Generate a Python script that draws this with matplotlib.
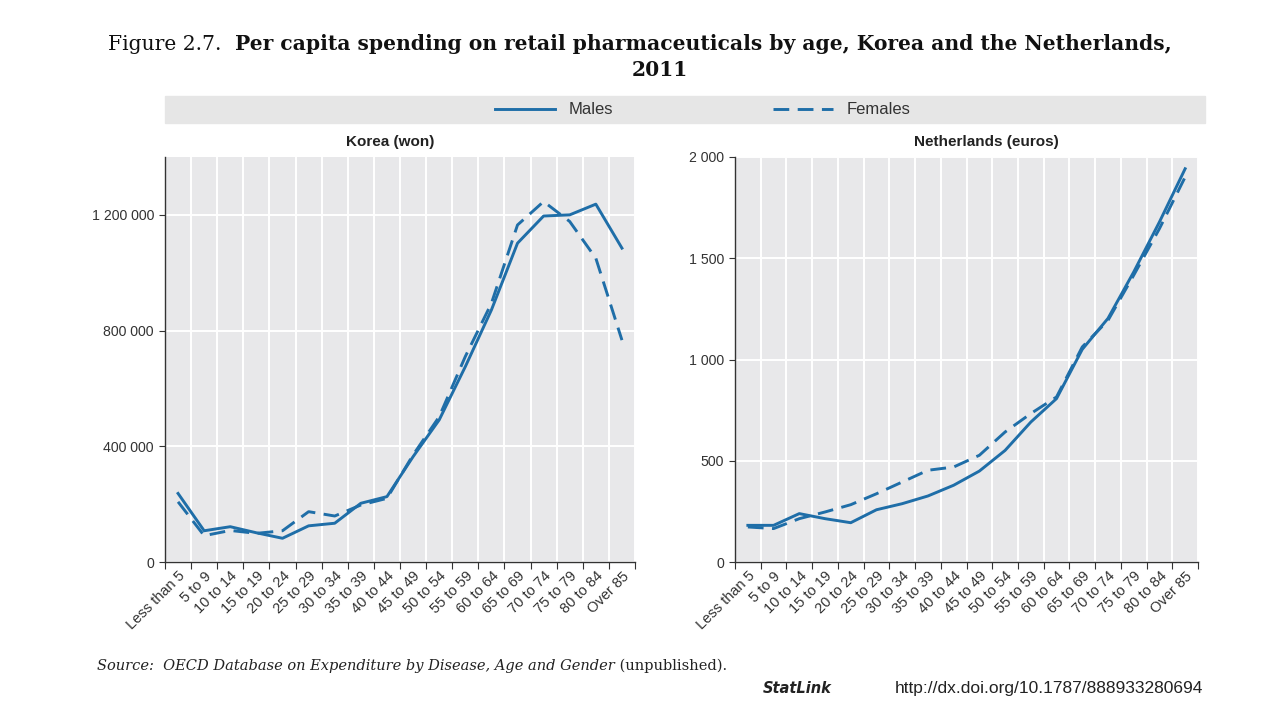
"""
Per capita spending on retail pharmaceuticals by age, Korea and the Netherlands, 2011.
OECD-style two-panel line chart.
"""

import matplotlib
matplotlib.use("Agg")
import matplotlib.pyplot as plt
from matplotlib.patches import Rectangle
from matplotlib.ticker import FuncFormatter, FixedLocator

# ── Data ──────────────────────────────────────────────────────────────────────

age_groups = [
    "Less than 5", "5 to 9", "10 to 14", "15 to 19", "20 to 24", "25 to 29",
    "30 to 34", "35 to 39", "40 to 44", "45 to 49", "50 to 54", "55 to 59",
    "60 to 64", "65 to 69", "70 to 74", "75 to 79", "80 to 84", "Over 85",
]

korea_males = [237000, 108000, 122000, 101000, 82000, 125000, 134000, 203000, 226000,
               364000, 491000, 675000, 871000, 1102000, 1196000, 1200000, 1237000, 1085000]
korea_females = [208000, 91000, 109000, 99000, 108000, 174000, 159000, 197000, 220000,
                 370000, 502000, 710000, 894000, 1165000, 1246000, 1177000, 1050000, 767000]

nl_males = [181, 181, 239, 214, 194, 258, 288, 326, 379,
            449, 551, 691, 807, 1050, 1203, 1432, 1679, 1942]
nl_females = [173, 165, 214, 247, 283, 337, 395, 453, 469,
              527, 642, 733, 815, 1062, 1193, 1416, 1646, 1901]

korea_yticks = [0, 400000, 800000, 1200000]
nl_yticks = [0, 500, 1000, 1500, 2000]

# ── Style ─────────────────────────────────────────────────────────────────────

LINE_COLOUR = "#1f6ea8"
PANEL_BG = "#e8e8ea"
BAND_BG = "#e6e6e6"
SANS = ["Liberation Sans", "DejaVu Sans"]
DASH = (0, (5.4, 2.9))

plt.rcParams["font.family"] = SANS

W, H = 1280, 704
fig = plt.figure(figsize=(W / 100, H / 100), dpi=100)


def fx(px):
    return px / W


def fy(py):
    return 1 - py / H


def space_thousands(v, _pos=None):
    return f"{v:,.0f}".replace(",", " ")


def draw_panel(ax, males, females, yticks, ymax, title, title_x):
    n = len(age_groups)
    xs = [i + 0.5 for i in range(n)]
    ax.set_facecolor(PANEL_BG)
    ax.plot(xs, males, color=LINE_COLOUR, lw=2.1, label="Males", zorder=3)
    ax.plot(xs, females, color=LINE_COLOUR, lw=2.1, ls=DASH,
            label="Females", zorder=3)

    ax.set_xlim(0, n)
    ax.set_ylim(0, ymax)

    # boundaries carry grid + tick marks, centres carry labels
    ax.xaxis.set_major_locator(FixedLocator(range(n + 1)))
    ax.xaxis.set_minor_locator(FixedLocator(xs))
    ax.set_xticklabels([], minor=False)
    ax.set_xticklabels(age_groups, minor=True, rotation=45, ha="right",
                       rotation_mode="anchor", fontsize=10.5, color="#333333")
    ax.tick_params(axis="x", which="minor", length=0, pad=5)
    ax.tick_params(axis="x", which="major", length=5, color="#333333")

    ax.set_yticks(yticks)
    ax.yaxis.set_major_formatter(FuncFormatter(space_thousands))
    ax.tick_params(axis="y", length=4, color="#333333", labelsize=10.2,
                   labelcolor="#333333", pad=4)

    ax.grid(True, which="major", color="white", lw=1.4)
    ax.set_axisbelow(True)
    for side in ("top", "right"):
        ax.spines[side].set_visible(False)
    for side in ("left", "bottom"):
        ax.spines[side].set_color("#333333")
        ax.spines[side].set_linewidth(1.0)

    ax.set_title(title, x=title_x, fontsize=11, fontweight="bold",
                 color="#222222", pad=8)


ax_kr = fig.add_axes([fx(165), fy(562), fx(635 - 165), fy(157) - fy(562)])
ax_nl = fig.add_axes([fx(735), fy(562), fx(1198 - 735), fy(157) - fy(562)])

draw_panel(ax_kr, korea_males, korea_females, korea_yticks, 1400000,
           "Korea (won)", 0.479)
draw_panel(ax_nl, nl_males, nl_females, nl_yticks, 2000,
           "Netherlands (euros)", 0.542)

# ── Legend band ───────────────────────────────────────────────────────────────

fig.patches.append(Rectangle((fx(165), fy(123)), fx(1205 - 165), fy(96) - fy(123),
                             transform=fig.transFigure, color=BAND_BG, zorder=0))
handles, labels = ax_kr.get_legend_handles_labels()
fig.legend(handles, labels, loc="center", bbox_to_anchor=(fx(703), fy(110)),
           ncol=2, frameon=False, handlelength=3.6, handletextpad=0.8,
           columnspacing=9.6, fontsize=12, labelcolor="#333333")

# ── Title and footnotes (pieces laid out left to right) ──────────────────────


def text_run(pieces, x_px, y_px, centre=False):
    """Place (text, kwargs) pieces next to each other on one baseline."""
    renderer = fig.canvas.get_renderer()
    items = []
    for txt, kw in pieces:
        t = fig.text(0, fy(y_px), txt, va="baseline", ha="left", **kw)
        items.append(t)
    widths = [t.get_window_extent(renderer).width for t in items]
    total = sum(widths)
    x = x_px - total / 2 if centre else x_px
    for t, w in zip(items, widths):
        t.set_x(fx(x))
        x += w
    return items


serif = dict(family="DejaVu Serif", fontsize=14.6, color="#111111")
text_run([("Figure 2.7.  ", serif),
          ("Per capita spending on retail pharmaceuticals by age, Korea and the Netherlands,",
           dict(serif, fontweight="bold"))], 640, 50, centre=True)
fig.text(fx(660), fy(76), "2011", ha="center", va="baseline",
         family="DejaVu Serif", fontsize=14.6, fontweight="bold", color="#111111")

src = dict(family="DejaVu Serif", fontsize=10.5, color="#222222")
text_run([("Source:  OECD Database on Expenditure by Disease, Age and Gender",
           dict(src, style="italic")),
          (" (unpublished).", src)], 97, 670)

fig.text(fx(763), fy(693), "StatLink", family="DejaVu Sans", fontsize=10.5,
         fontweight="bold", style="italic", color="#222222", va="baseline")
fig.text(fx(1203), fy(693), "http://dx.doi.org/10.1787/888933280694", ha="right",
         va="baseline", fontsize=12.5, color="#222222")

fig.savefig("out.png", dpi=100)
